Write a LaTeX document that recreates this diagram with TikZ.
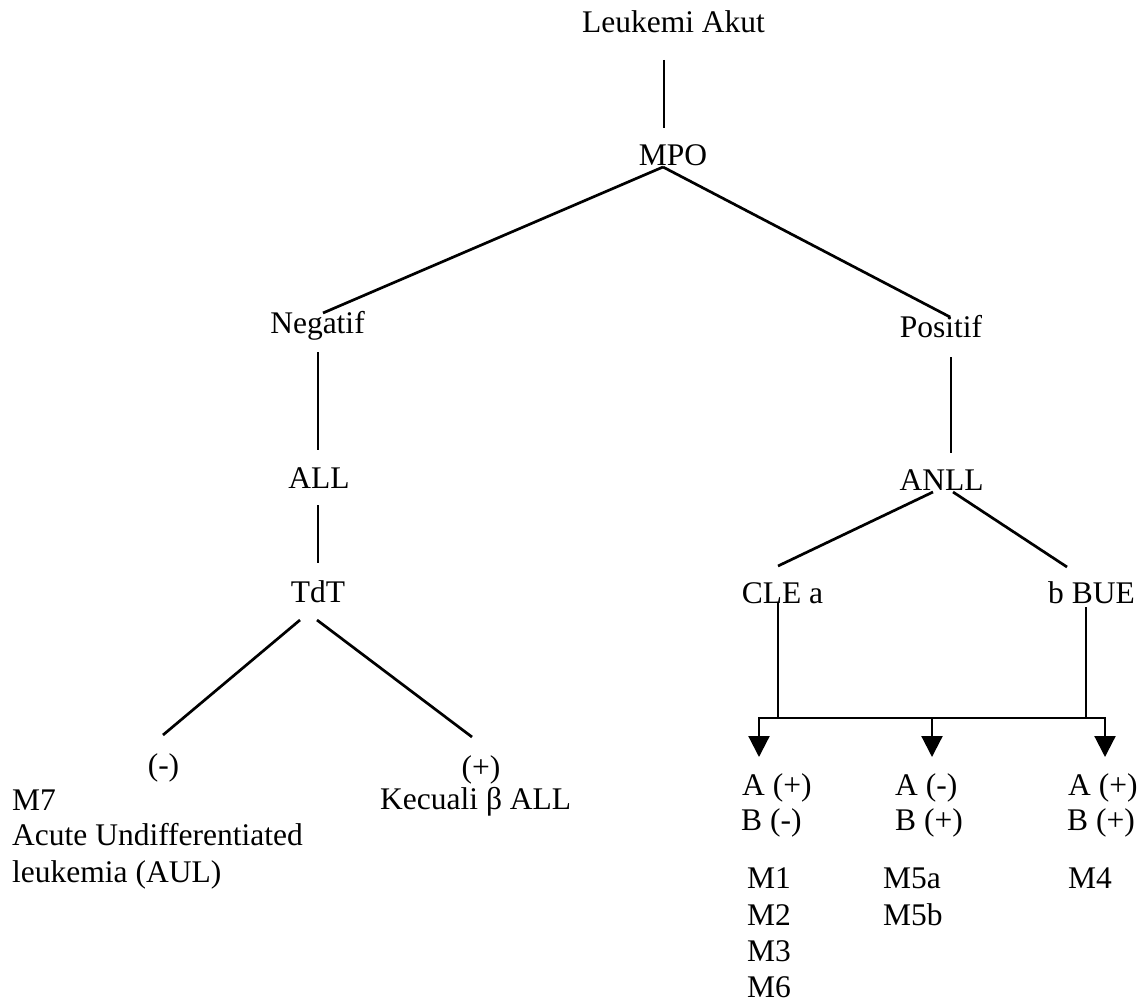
\documentclass[tikz,border=0pt]{standalone}
\usepackage{fontspec}
\setmainfont{Liberation Serif}
\usetikzlibrary{arrows.meta,calc}
\begin{document}
\begin{tikzpicture}[x=1pt,y=-1pt,
  txt/.style={inner sep=0pt, anchor=base, font=\fontsize{31.5}{36}\selectfont},
  txtl/.style={txt, anchor=base west},
  branch/.style={line width=2.7pt},
  stem/.style={line width=2pt},
  bus/.style={line width=2.6pt, line cap=rect},
  drop/.style={line width=2.2pt, line cap=rect, -{Triangle[width=21pt,length=21pt]}}]
\useasboundingbox[fill=white] (0,0) rectangle (1140,1003);

% upper levels
\node[txt] (lk)   at (673.5,33) {Leukemi Akut};
\node[txt] (mpo)  at (673,166)  {MPO};
\node[txt] (neg)  at (317.5,333) {Negatif};
\node[txt] (pos)  at (941,337)  {Positif};
\node[txt] (all)  at (319,488)  {ALL};
\node[txt] (anll) at (941.5,490) {ANLL};
\node[txt] (tdt)  at (318,602)  {TdT};
\node[txt] (cle)  at (782.5,603) {CLE a};
\node[txt] (bue)  at (1091.5,603) {b BUE};

% TdT outcomes
\node[txt] (tneg) at (163.5,775) {(-)};
\node[txt] (tpos) at (481,777) {(+)};
\node[txtl] (m7)   at (12,810) {M7};
\node[txtl] (aul1) at (12,845) {Acute Undifferentiated};
\node[txtl] (aul2) at (12,882) {leukemia (AUL)};
\node[txtl] (kec)  at (380,809) {Kecuali β ALL};

% esterase outcomes
\node[txtl] (a1) at (742,795) {A (+)};
\node[txtl] (b1) at (741,830) {B (-)};
\node[txtl] (a2) at (895,795) {A (-)};
\node[txtl] (b2) at (895,830) {B (+)};
\node[txtl] (a3) at (1068,795) {A (+)};
\node[txtl] (b3) at (1067,830) {B (+)};

\node[txtl] (m1) at (747,888) {M1};
\node[txtl] (m2) at (747,925) {M2};
\node[txtl] (m3) at (747,961) {M3};
\node[txtl] (m6) at (747,997) {M6};
\node[txtl] (m5a) at (883,888) {M5a};
\node[txtl] (m5b) at (883,925) {M5b};
\node[txtl] (m4)  at (1068,888) {M4};

% connectors
\draw[stem] ($(lk.base)+(-9.5,27)$) -- ($(mpo.base)+(-9,-38)$);
\draw[branch] ($(mpo.base)+(-10,1)$) -- ($(neg.base)+(5.5,-20)$);
\draw[branch] ($(mpo.base)+(-10,1)$) -- ($(pos.base)+(9,-20)$);
\draw[stem] ($(neg.base)+(0.5,19)$) -- ($(all.base)+(-1,-38)$);
\draw[stem] ($(all.base)+(-1,17)$) -- ($(tdt.base)+(0,-39)$);
\draw[branch] ($(tdt.base)+(-18,18)$) -- ($(tneg.base)+(-0.5,-40)$);
\draw[branch] ($(tdt.base)+(-1,18)$) -- ($(tpos.base)+(-9,-40)$);
\draw[stem] ($(pos.base)+(10,20)$) -- ($(anll.base)+(9.5,-37)$);
\draw[branch] ($(anll.base)+(-8.5,2)$) -- ($(cle.base)+(-4.5,-37)$);
\draw[branch] ($(anll.base)+(11.5,2)$) -- ($(bue.base)+(-24.5,-36)$);

% collecting bus and arrows
\coordinate (j1) at (759,718);
\coordinate (j2) at (932,718);
\coordinate (j3) at (1105,718);
\draw[stem] ($(cle.base)+(-4.5,0)$) -- ($(cle.base)+(-4.5,115)$);
\draw[stem] ($(bue.base)+(-5.5,4)$) -- ($(bue.base)+(-5.5,115)$);
\draw[bus] (j1) -- (j3);
\draw[drop] (j1) -- ($(a1.base west)+(17,-38)$);
\draw[drop] (j2) -- ($(a2.base west)+(37,-38)$);
\draw[drop] (j3) -- ($(a3.base west)+(37,-38)$);
\end{tikzpicture}
\end{document}
